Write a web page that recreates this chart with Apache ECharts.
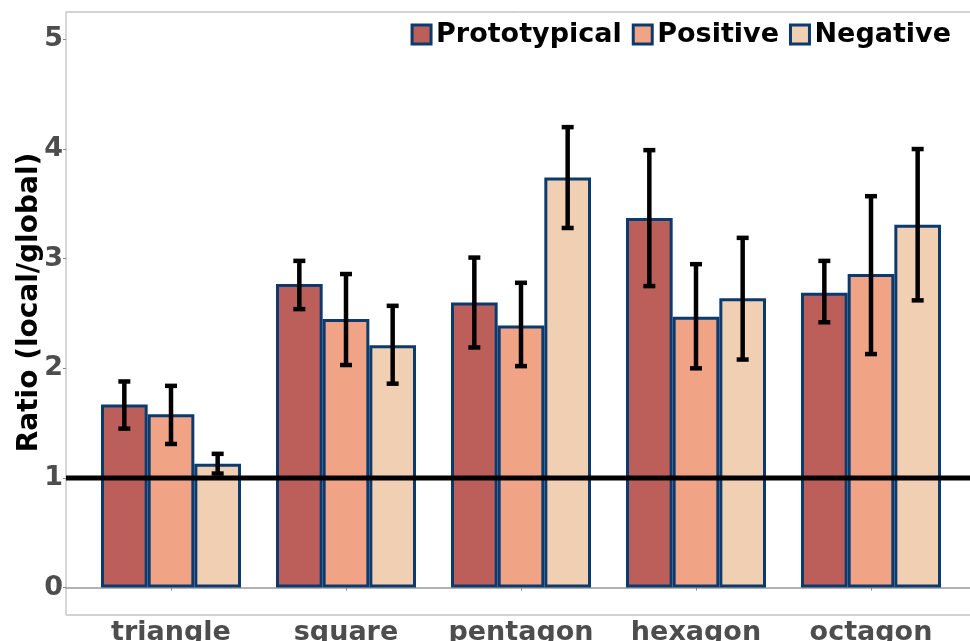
<!DOCTYPE html>
<html>
<head>
<meta charset="utf-8">
<script src="https://cdn.jsdelivr.net/npm/echarts@6/dist/echarts.min.js"></script>
<style>
  html, body { margin: 0; padding: 0; background: #fff; }
  #chart { width: 970px; height: 641px; }
</style>
</head>
<body>
<div id="chart"></div>
<script>
const categories = ['triangle', 'square', 'pentagon', 'hexagon', 'octagon'];
const seriesNames = ['Prototypical', 'Positive', 'Negative'];
const prototypical = [1.67, 2.77, 2.60, 3.37, 2.69];
const positive = [1.58, 2.45, 2.39, 2.47, 2.86];
const negative = [1.13, 2.21, 3.74, 2.64, 3.31];
// error bar ends (low / high)
const prototypicalLow = [1.45, 2.54, 2.19, 2.75, 2.42];
const prototypicalHigh = [1.88, 2.98, 3.01, 3.99, 2.98];
const positiveLow = [1.31, 2.03, 2.02, 2.00, 2.13];
const positiveHigh = [1.84, 2.86, 2.78, 2.95, 3.57];
const negativeLow = [1.04, 1.86, 3.28, 2.08, 2.62];
const negativeHigh = [1.22, 2.57, 4.20, 3.19, 4.00];
const yTicks = [0, 1, 2, 3, 4, 5];
const refLine = 1;

const colors = ['#bc5f5a', '#f1a386', '#f0cfb3'];
const edge = '#0b3b6e';
const font = 'DejaVu Sans';
const yMin = -0.25, yMax = 5.25;

function barSeries (k, values) {
  return {
    name: seriesNames[k],
    type: 'bar',
    xAxisIndex: 0,
    yAxisIndex: 0,
    barGap: '0%',
    barCategoryGap: '20%',
    itemStyle: { color: colors[k], borderColor: edge, borderWidth: 3 },
    data: values
  };
}

function errorSeries (k, lows, highs) {
  return {
    type: 'custom',
    xAxisIndex: 0,
    yAxisIndex: 0,
    z: 5,
    silent: true,
    data: categories.map((c, i) => [i, lows[i], highs[i]]),
    renderItem: function (params, api) {
      const band = api.size([1, 0])[0];
      const barW = band * 0.8 / 3;
      const x = api.coord([api.value(0), 0])[0] + (k - 1) * barW;
      const yLow = api.coord([api.value(0), api.value(1)])[1];
      const yHigh = api.coord([api.value(0), api.value(2)])[1];
      const cap = 6;
      const st = () => ({ stroke: '#000', lineWidth: 4.5 });
      return {
        type: 'group',
        children: [
          { type: 'line', shape: { x1: x, y1: yHigh, x2: x, y2: yLow }, style: st() },
          { type: 'line', shape: { x1: x - cap, y1: yHigh, x2: x + cap, y2: yHigh }, style: st() },
          { type: 'line', shape: { x1: x - cap, y1: yLow, x2: x + cap, y2: yLow }, style: st() }
        ]
      };
    }
  };
}

const chart = echarts.init(document.getElementById('chart'));
chart.setOption({
  animation: false,
  textStyle: { fontFamily: font },
  legend: {
    data: seriesNames,
    right: 14,
    top: 16,
    itemWidth: 19,
    itemHeight: 19,
    itemGap: 10,
    icon: 'rect',
    itemStyle: { borderWidth: 3 },
    textStyle: { fontFamily: font, fontWeight: 'bold', fontSize: 27, color: '#000' }
  },
  grid: [
    { left: 83.5, width: 875, top: 12, bottom: 26, outerBoundsMode: 'none' },
    { left: 66, width: 930, top: 12, bottom: 26, outerBoundsMode: 'none', show: true, borderColor: '#a6a6a6', borderWidth: 1 }
  ],
  xAxis: [
    {
      type: 'category',
      gridIndex: 0,
      data: categories,
      axisLine: { show: false },
      axisTick: { show: true, alignWithLabel: true, length: 3, lineStyle: { color: '#888' } },
      axisLabel: { interval: 0, fontFamily: font, fontWeight: 'bold', fontSize: 27, color: '#4d4d4d', margin: 4 }
    },
    {
      type: 'value',
      gridIndex: 1,
      min: 0,
      max: 1,
      axisLine: { show: true, lineStyle: { color: '#999', width: 1.5 } },
      axisTick: { show: false },
      axisLabel: { show: false },
      splitLine: { show: false }
    }
  ],
  yAxis: [
    {
      type: 'value',
      gridIndex: 0,
      min: yMin,
      max: yMax,
      show: false,
      splitLine: { show: false }
    },
    {
      type: 'value',
      gridIndex: 1,
      min: yMin,
      max: yMax,
      name: 'Ratio (local/global)',
      nameLocation: 'middle',
      nameGap: 22,
      nameMoveOverlap: false,
      nameTextStyle: { fontFamily: font, fontWeight: 'bold', fontSize: 28, color: '#000', padding: [0, 0, 0, 22] },
      axisLine: { show: true, lineStyle: { color: '#d9d9d9', width: 1.5 } },
      axisTick: { show: true, length: 3, customValues: yTicks, lineStyle: { color: '#888' } },
      axisLabel: { customValues: yTicks, fontFamily: font, fontWeight: 'bold', fontSize: 27, color: '#4d4d4d', margin: 3 },
      splitLine: { show: false }
    }
  ],
  series: [
    barSeries(0, prototypical),
    barSeries(1, positive),
    barSeries(2, negative),
    {
      type: 'line',
      xAxisIndex: 1,
      yAxisIndex: 1,
      z: 4,
      silent: true,
      symbol: 'none',
      lineStyle: { color: '#000', width: 5 },
      data: [[0, refLine], [1, refLine]]
    },
    errorSeries(0, prototypicalLow, prototypicalHigh),
    errorSeries(1, positiveLow, positiveHigh),
    errorSeries(2, negativeLow, negativeHigh)
  ]
});
</script>
</body>
</html>
